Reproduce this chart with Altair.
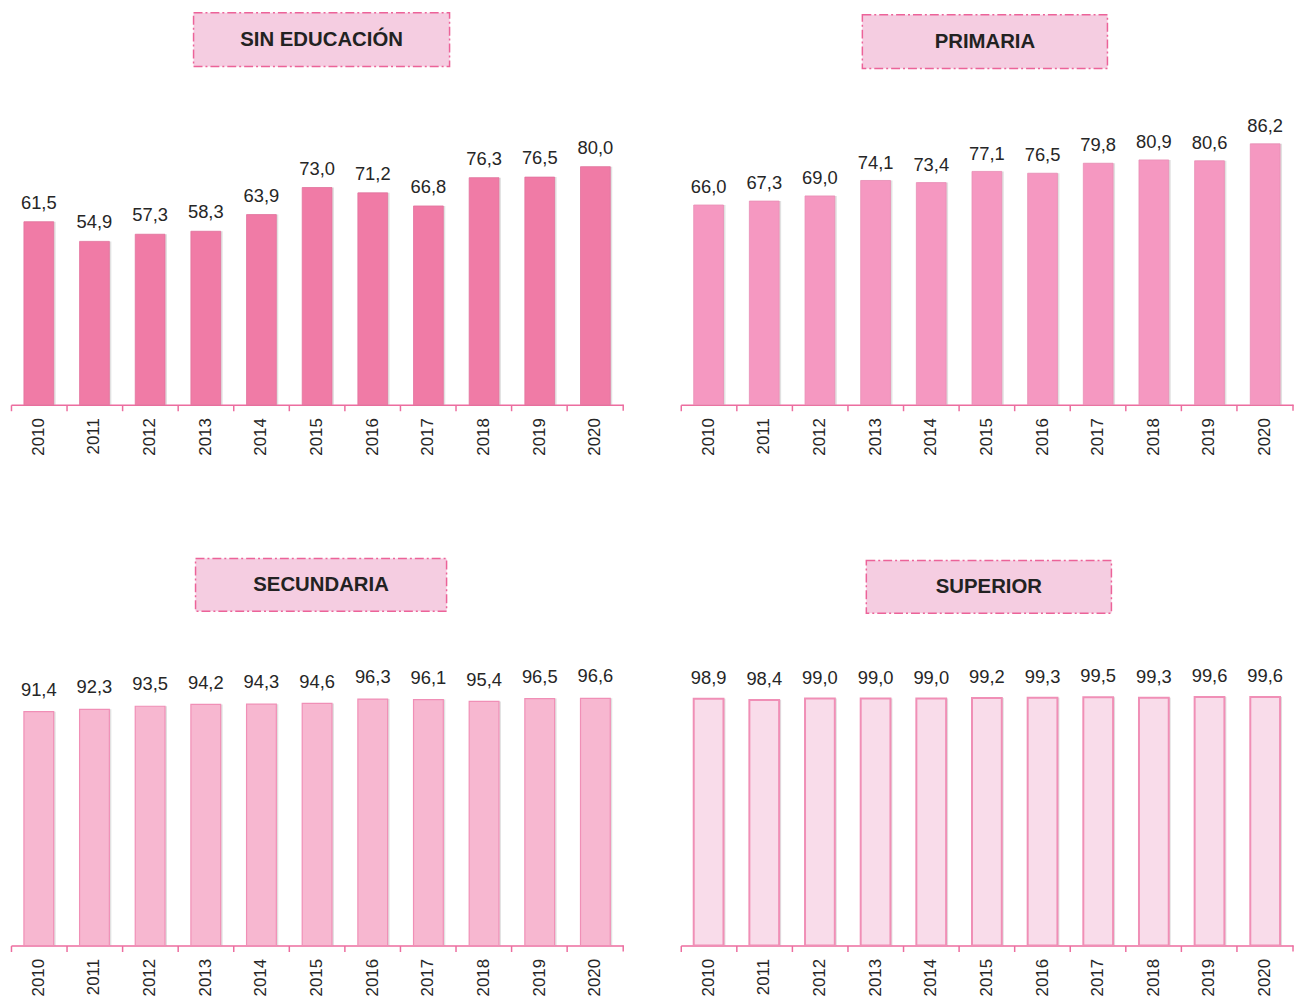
import altair as alt
import pandas as pd

years = [str(y) for y in range(2010, 2021)]
sin_educacion = [61.5, 54.9, 57.3, 58.3, 63.9, 73.0, 71.2, 66.8, 76.3, 76.5, 80.0]
primaria = [66.0, 67.3, 69.0, 74.1, 73.4, 77.1, 76.5, 79.8, 80.9, 80.6, 86.2]
secundaria = [91.4, 92.3, 93.5, 94.2, 94.3, 94.6, 96.3, 96.1, 95.4, 96.5, 96.6]
superior = [98.9, 98.4, 99.0, 99.0, 99.0, 99.2, 99.3, 99.5, 99.3, 99.6, 99.6]
titles = ["SIN EDUCACIÓN", "PRIMARIA", "SECUNDARIA", "SUPERIOR"]

FONT = "Liberation Sans, Arial, sans-serif"
AXIS_COLOR = "#ec6d9f"
TEXT_COLOR = "#262626"
W = 617


def panel(title, values, ymax, H, fill, stroke, sw, dy, box):
    df = pd.DataFrame({
        "year": years,
        "value": values,
        "label": [f"{v:.1f}".replace(".", ",") for v in values],
    })
    x = alt.X(
        "year:N",
        sort=years,
        scale=alt.Scale(paddingInner=0, paddingOuter=0),
        axis=alt.Axis(
            title=None, labelAngle=-90, bandPosition=0, domainColor=AXIS_COLOR,
            domainWidth=1.5, tickColor=AXIS_COLOR, tickWidth=1.5, tickSize=6,
            labelPadding=7, labelFont=FONT, labelFontSize=17, labelColor=TEXT_COLOR,
            grid=False,
        ),
    )
    y = alt.Y("value:Q", scale=alt.Scale(domain=[0, ymax]), axis=None)
    base = alt.Chart(df)
    shadow = base.mark_bar(size=30, xOffset=2, color="#9a9a9a", opacity=0.3).encode(x=x, y=y)
    bars = base.mark_bar(size=30, color=fill, stroke=stroke, strokeWidth=sw).encode(x=x, y=y)
    labels = base.mark_text(
        dy=-dy, baseline="alphabetic", font=FONT, fontSize=18.5, color=TEXT_COLOR
    ).encode(x=x, y=y, text="label:N")

    tdf = pd.DataFrame({"t": [title]})
    bx0, bx1, by0, by1 = box
    rect = alt.Chart(tdf).mark_rect(
        fill="#f5cde1", stroke="#ec6399", strokeWidth=1.5, strokeDash=[9, 3, 2, 3]
    ).encode(x=alt.value(bx0), x2=alt.value(bx1), y=alt.value(by0), y2=alt.value(by1))
    ttext = alt.Chart(tdf).mark_text(
        font=FONT, fontSize=20.5, fontWeight="bold", color="#222222",
        align="center", baseline="middle",
    ).encode(x=alt.value((bx0 + bx1) / 2), y=alt.value((by0 + by1) / 2), text="t:N")
    end_tick = alt.Chart(tdf).mark_rule(color=AXIS_COLOR, strokeWidth=1.5).encode(
        x=alt.value(W), y=alt.value(H), y2=alt.value(H + 6)
    )
    return alt.layer(rect, ttext, shadow, bars, labels, end_tick).properties(width=W, height=H)


p1 = panel(titles[0], sin_educacion, 131.7, 395, "#f07ba6", "#e2729c", 0.8, 13, (184, 442, 0, 54))
p2 = panel(titles[1], primaria, 129.5, 395, "#f598c1", "#e88db5", 0.8, 12, (183, 430, 2, 56))
p3 = panel(titles[2], secundaria, 151.2, 390, "#f7b7d0", "#f08fb6", 1.2, 16, (186, 439, 0, 53))
p4 = panel(titles[3], superior, 155.1, 390, "#f9dcea", "#f08fb6", 2, 15, (187, 434, 2, 55))

chart = alt.vconcat(
    alt.hconcat(p1, p2, spacing=56),
    alt.hconcat(p3, p4, spacing=56),
    spacing=103,
).properties(
    padding={"left": 2, "top": 0, "right": 0, "bottom": 0}
).configure_view(stroke=None).configure_concat(spacing=56)

chart.save("out.html", embed_options={"renderer": "svg", "actions": False})
